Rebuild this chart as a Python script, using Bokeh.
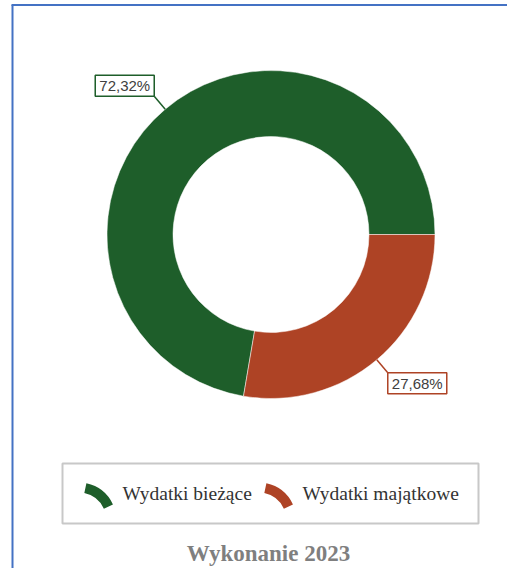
import math
from bokeh.plotting import figure
from bokeh.models import Range1d, ColumnDataSource
from bokeh.core.properties import value
from bokeh.embed import file_html
from bokeh.resources import INLINE

# ---- data ----
categories = ["Wydatki bieżące", "Wydatki majątkowe"]
shares = [72.32, 27.68]
pct_labels = ["72,32%", "27,68%"]
colors = ["#1e5e2a", "#ae4325"]
title_text = "Wykonanie 2023"

FIG_W, FIG_H = 507, 568
def Y(py):
    return FIG_H - py

p = figure(width=FIG_W, height=FIG_H, x_range=Range1d(0, FIG_W), y_range=Range1d(0, FIG_H),
           output_backend="svg", toolbar_location=None, min_border=0)
p.axis.visible = False
p.grid.visible = False
p.outline_line_color = None
p.background_fill_color = "white"
p.border_fill_color = "white"

# frame (blue) on left and top
p.segment(x0=[12, 11], y0=[Y(FIG_H), Y(4.5)], x1=[12, FIG_W], y1=[Y(4.5), Y(4.5)],
          line_color="#4472c4", line_width=2)

# donut
cx, cy = 270.5, Y(234)
R_out, R_in = 164, 98
total = sum(shares)
starts, ends, mids = [], [], []
acc = 0.0
for s in shares:
    a0 = 2 * math.pi * acc / total
    acc += s
    a1 = 2 * math.pi * acc / total
    starts.append(a0); ends.append(a1); mids.append((a0 + a1) / 2)

src = ColumnDataSource(dict(start=starts, end=ends, color=colors))
p.annular_wedge(x=cx, y=cy, inner_radius=R_in, outer_radius=R_out,
                start_angle="start", end_angle="end", direction="anticlock",
                fill_color="color", line_color="white", line_width=0.5, source=src)

# percentage labels with leader lines
box_w, box_h = 59, 21
ax, ay, ex, ey, bx, by = [], [], [], [], [], []
for m in mids:
    c, s = math.cos(m), math.sin(m)
    ax.append(cx + R_out * c); ay.append(cy + R_out * s)
    x2 = cx + (R_out + 17) * c; y2 = cy + (R_out + 17) * s
    ex.append(x2); ey.append(y2)
    bx.append(x2 + math.copysign(box_w / 2, c))
    by.append(y2 + math.copysign(box_h / 2, s))
p.segment(x0=ax, y0=ay, x1=ex, y1=ey, line_color=colors, line_width=1.5)
p.rect(x=bx, y=by, width=box_w, height=box_h, fill_color="white",
       line_color=colors, line_width=1.5)
p.text(x=bx, y=by, text=pct_labels, text_align="center", text_baseline="middle",
       text_font=value("Liberation Sans"), text_font_size="15px", text_color="#404040")

# legend box
p.quad(left=62, right=478, top=Y(463), bottom=Y(523), fill_color="white",
       line_color="#c8c8c8", line_width=2)
icon_x = [78, 258]
text_x = [122, 302]
p.annular_wedge(x=icon_x, y=[Y(520)] * 2, inner_radius=28, outer_radius=38,
                start_angle=math.radians(25), end_angle=math.radians(78),
                direction="anticlock", fill_color=colors, line_color=None)
p.text(x=text_x, y=[Y(493)] * 2, text=categories, text_align="left", text_baseline="middle",
       text_font=value("Liberation Serif"), text_font_size="19.5px", text_color="#333333")

# title
p.text(x=[268], y=[Y(553)], text=[title_text], text_align="center", text_baseline="middle",
       text_font=value("Liberation Serif"), text_font_style="bold",
       text_font_size="23px", text_color="#7f7f7f")

open("out.html", "w").write(file_html(p, INLINE))
